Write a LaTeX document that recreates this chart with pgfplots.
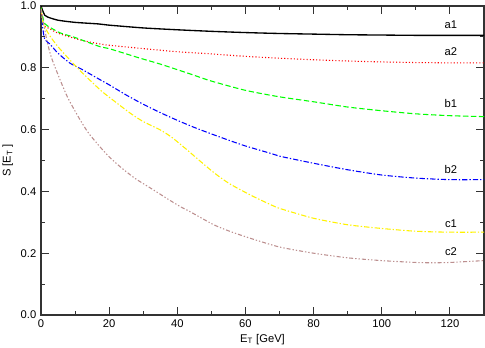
\documentclass[border=0pt]{standalone}
\usepackage{fontspec}
\setmainfont{Liberation Sans}
\usepackage{pgfplots}
\pgfplotsset{compat=1.18}
\definecolor{grbrown}{RGB}{188,143,143}
\begin{document}
\begin{tikzpicture}[font=\fontsize{8.4}{10}\selectfont]
  \begin{axis}[
      scale only axis,
      width=332.25pt, height=231.75pt,
      xmin=0, xmax=130, ymin=0, ymax=1,
      xtick={0,20,...,120}, ytick={0,0.2,0.4,0.6,0.8,1.0},
      minor x tick num=1, minor y tick num=1,
      tick align=inside, xtick pos=both, ytick pos=both,
      xticklabel pos=lower, yticklabel pos=left,
      major tick length=6pt, minor tick length=3pt,
      axis line style={black!80, line width=0.8pt},
      every tick/.style={black!80, line width=0.8pt},
      yticklabel style={/pgf/number format/.cd, fixed, fixed zerofill, precision=1},
      /pgf/number format/assume math mode=true,
      xlabel={E\textsubscript{T} [GeV]},
      ylabel={S [E\textsubscript{T} ]},
      xlabel style={yshift=2pt},
      ylabel style={yshift=-1pt},
      every axis plot/.append style={smooth, tension=0.4},
      clip=true,
    ]
    % a1
    \addplot[black, line width=1pt] coordinates {
      (0,1.0) (0.5,0.985) (1.1,0.97) (2,0.964) (5,0.954) (10,0.947)
      (16.8,0.942) (20,0.938) (30,0.929) (40,0.923) (50,0.918) (60,0.914)
      (70,0.911) (80,0.909) (90,0.907) (100,0.906) (110,0.905) (120,0.905) (130,0.905)};
    % a2
    \addplot[red, line width=0.8pt, dash pattern=on 0.8pt off 1.6pt] coordinates {
      (0,0.995) (0.5,0.95) (1.1,0.935) (2.6,0.926) (5,0.912) (11.5,0.890)
      (17.4,0.877) (20,0.873) (29.1,0.863) (40,0.852) (50,0.845) (60,0.837)
      (70,0.831) (80,0.826) (90,0.822) (100,0.819) (110,0.817) (120,0.816) (130,0.816)};
    % b1
    \addplot[green, line width=0.8pt, dash pattern=on 4pt off 2pt] coordinates {
      (0,0.995) (0.5,0.965) (1.1,0.943) (2,0.935) (5.6,0.913) (10,0.898)
      (17.4,0.868) (20,0.862) (29.1,0.831) (35,0.812) (43.8,0.780) (50,0.757)
      (60,0.727) (70,0.706) (80,0.690) (90,0.673) (100,0.661) (110,0.651)
      (120,0.645) (130,0.642)};
    % b2
    \addplot[blue, line width=0.8pt, dash pattern=on 4pt off 1.5pt on 1pt off 1.5pt] coordinates {
      (0,0.99) (0.5,0.93) (1.1,0.892) (2.6,0.877) (5,0.847) (8.5,0.815)
      (12,0.795) (17.4,0.761) (20,0.745) (25,0.712) (30,0.682) (35,0.655)
      (40,0.630) (45,0.607) (50,0.586) (55,0.566) (60,0.547) (67.4,0.523)
      (70,0.514) (80,0.491) (90,0.470) (100,0.453) (110,0.443) (120,0.438) (130,0.438)};
    % c1
    \addplot[yellow, line width=0.8pt, dash pattern=on 4pt off 1.5pt on 1pt off 1.5pt] coordinates {
      (0,0.99) (0.5,0.95) (1.7,0.920) (3,0.897) (5,0.868) (8.5,0.825)
      (12,0.785) (17.4,0.728) (20,0.705) (26.2,0.653) (30,0.626) (35,0.599)
      (38.5,0.574) (42.8,0.535) (46.8,0.497) (49.7,0.470)
      (52.5,0.446) (55.6,0.423) (61.5,0.388) (67.4,0.357) (70.3,0.344)
      (80,0.313) (90,0.292) (100,0.280) (110,0.271) (120,0.268) (130,0.268)};
    % c2
    \addplot[grbrown, line width=0.8pt, dash pattern=on 3pt off 1.5pt on 1pt off 1.5pt on 1pt off 1.5pt] coordinates {
      (0,0.99) (0.6,0.955) (1.7,0.89) (3,0.835) (5.6,0.761)
      (8,0.700) (11.5,0.631) (14,0.588) (17.4,0.543) (20,0.512) (23.2,0.480)
      (27.6,0.442) (32.1,0.411) (37.4,0.374) (41,0.350) (43.8,0.334)
      (50.7,0.292) (55.6,0.270) (61.5,0.248) (70,0.220) (80,0.200)
      (90,0.185) (100,0.176) (110,0.170) (115,0.169) (120,0.170) (130,0.176)};
    \node at (axis cs:120.3,0.939) {a1};
    \node at (axis cs:120.3,0.852) {a2};
    \node at (axis cs:120.3,0.685) {b1};
    \node at (axis cs:120.3,0.472) {b2};
    \node at (axis cs:120.3,0.294) {c1};
    \node at (axis cs:120.3,0.205) {c2};
  \end{axis}
  \pgfresetboundingbox
  \path (current axis.south west) ++(-30.75pt,-24.75pt) rectangle ++(363.75pt,261pt);
\end{tikzpicture}
\end{document}
